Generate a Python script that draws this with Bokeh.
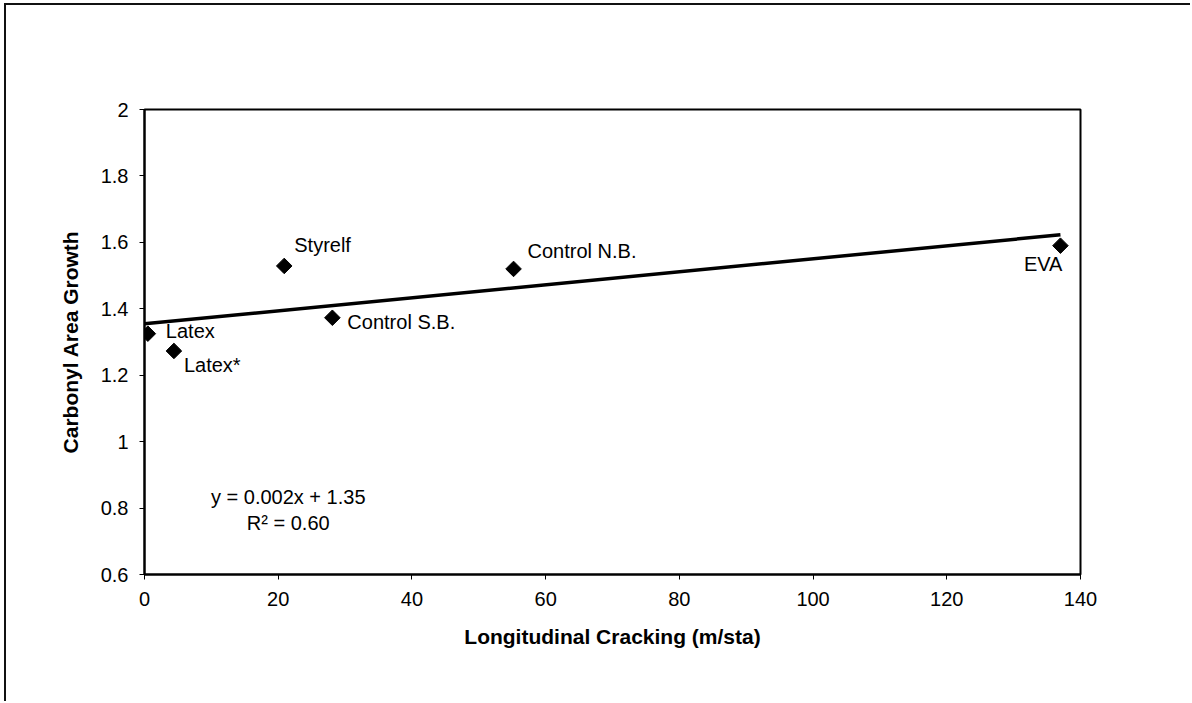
import numpy as np
from bokeh.plotting import figure
from bokeh.models import ColumnDataSource, FixedTicker, Range1d
from bokeh.core.properties import value
from bokeh.embed import file_html
from bokeh.resources import INLINE

# ---- data ----
names = ["Latex", "Latex*", "Styrelf", "Control S.B.", "Control N.B.", "EVA"]
cracking = [0.5, 4.4, 20.9, 28.1, 55.2, 137.0]
carbonyl = [1.325, 1.273, 1.529, 1.373, 1.520, 1.590]
x_ticks = [0, 20, 40, 60, 80, 100, 120, 140]
y_ticks = [0.6, 0.8, 1.0, 1.2, 1.4, 1.6, 1.8, 2.0]
equation_text = ["y = 0.002x + 1.35", "R\u00b2 = 0.60"]

# ---- label styling (pixel offsets, not data) ----
lab_dx = [18, 10, 10, 15, 14, 2]
lab_dy = [-3, 14, -21, 4, -18, 18]
lab_align = ["left", "left", "left", "left", "left", "right"]

FONT = "Liberation Sans"

p = figure(width=1186, height=698, x_range=Range1d(0, 140), y_range=Range1d(0.6, 2.0),
           output_backend="svg", toolbar_location=None,
           min_border_left=138, min_border_right=112, min_border_top=104, min_border_bottom=129)
p.margin = (3, 0, 0, 4)
p.styles = {"border-top": "2px solid #111", "border-left": "2px solid #111"}
p.background_fill_color = "white"
p.border_fill_color = "white"
p.outline_line_color = "black"
p.outline_line_width = 2
p.xgrid.visible = False
p.ygrid.visible = False

for ax in (p.xaxis[0], p.yaxis[0]):
    ax.axis_line_color = "black"
    ax.axis_line_width = 2
    ax.major_tick_line_color = "black"
    ax.major_tick_line_width = 1
    ax.major_tick_out = 5
    ax.major_tick_in = 0
    ax.minor_tick_line_color = None
    ax.major_label_text_font = FONT
    ax.major_label_text_font_size = "20px"
    ax.major_label_text_color = "black"
    ax.axis_label_text_font = FONT
    ax.axis_label_text_font_size = "21px"
    ax.axis_label_text_font_style = "bold"
    ax.axis_label_text_color = "black"

p.xaxis.ticker = FixedTicker(ticks=x_ticks)
p.yaxis.ticker = FixedTicker(ticks=y_ticks)
p.yaxis.major_label_overrides = {1.0: "1", 2.0: "2"}
p.xaxis.axis_label = "Longitudinal Cracking (m/sta)"
p.yaxis.axis_label = "Carbonyl Area Growth"
p.xaxis.major_label_standoff = 12
p.yaxis.major_label_standoff = 11
p.xaxis.axis_label_standoff = 16
p.yaxis.axis_label_standoff = 16

# trend line (least squares through the points)
slope, intercept = np.polyfit(cracking, carbonyl, 1)
fx = [0, max(cracking)]
fy = [intercept + slope * v for v in fx]
p.line(fx, fy, line_color="black", line_width=3.5)

src = ColumnDataSource(dict(x=cracking, y=carbonyl, name=names,
                            dx=lab_dx, dy=lab_dy, align=lab_align))
p.scatter("x", "y", source=src, marker="square", angle=np.pi / 4, size=11,
          fill_color="black", line_color="black")
p.text("x", "y", text="name", source=src, x_offset="dx", y_offset="dy",
       text_align="align", text_baseline="middle",
       text_font=value(FONT), text_font_size="20px", text_color="black")

p.text([21.5, 21.5], [0.832, 0.754], text=equation_text,
       text_align="center", text_baseline="middle",
       text_font=value(FONT), text_font_size="20px", text_color="black")

open("out.html", "w").write(file_html(p, INLINE))
